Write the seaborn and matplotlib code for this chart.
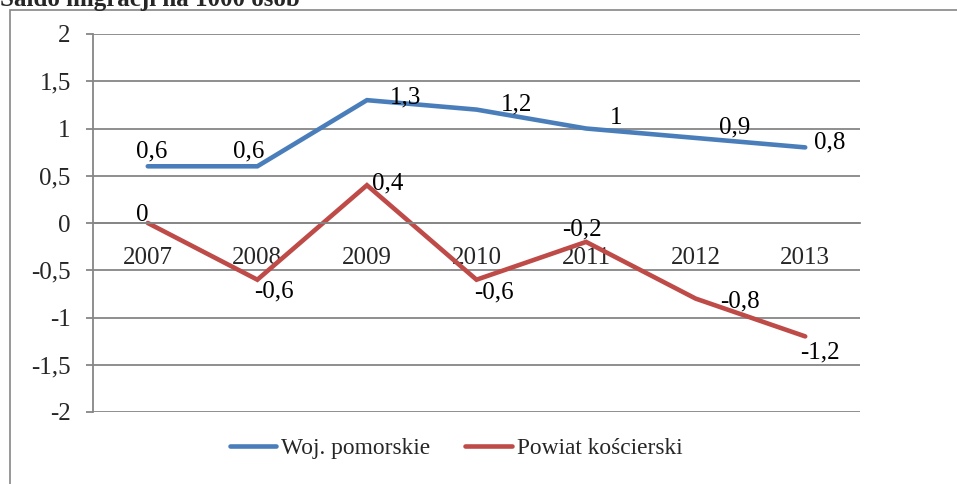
import pandas as pd
import numpy as np
import matplotlib.pyplot as plt
import seaborn as sns
from matplotlib.patches import Rectangle
from matplotlib.ticker import FixedLocator

years = ["2007", "2008", "2009", "2010", "2011", "2012", "2013"]
woj_pomorskie = [0.6, 0.6, 1.3, 1.2, 1.0, 0.9, 0.8]
powiat_koscierski = [0.0, -0.6, 0.4, -0.6, -0.2, -0.8, -1.2]
series_names = ["Woj. pomorskie", "Powiat kościerski"]
y_ticks = [-2, -1.5, -1, -0.5, 0, 0.5, 1, 1.5, 2]

sns.set_style("white")
plt.rcParams['font.family'] = ['Liberation Serif', 'DejaVu Serif']

df = pd.DataFrame({
    'pos': list(range(len(years))) * 2,
    'value': woj_pomorskie + powiat_koscierski,
    'series': [series_names[0]] * len(years) + [series_names[1]] * len(years),
})

colors = {series_names[0]: '#4A7EBB', series_names[1]: '#BE4B48'}
grid_c = '#868686'

fig = plt.figure(figsize=(9.57, 4.84), dpi=100)
ax = fig.add_axes([93 / 957, 72 / 484, 767 / 957, 378 / 484])

sns.lineplot(data=df, x='pos', y='value', hue='series', palette=colors,
             linewidth=3.3, ax=ax, legend=True, sort=False)
for ln in ax.lines:
    ln.set_solid_capstyle('round')
    ln.set_solid_joinstyle('miter')

ax.set_xlim(-0.5, len(years) - 0.5)
ax.set_ylim(-2, 2)
ax.set_yticks(y_ticks)
ax.set_yticklabels([f"{t:g}".replace('.', ',') for t in y_ticks])
ax.yaxis.grid(True, color=grid_c, linewidth=1.3)
ax.set_axisbelow(True)

ax.set_xticks(range(len(years)))
ax.set_xticklabels(years)
ax.xaxis.set_minor_locator(FixedLocator(np.arange(-0.5, len(years), 1.0)))
ax.tick_params(axis='x', which='major', length=0, pad=17, labelsize=18)
ax.tick_params(axis='x', which='minor', length=6, width=1.3, color=grid_c, direction='out')
ax.tick_params(axis='y', length=5, width=1.3, color=grid_c, pad=11, labelsize=18, left=True)

for s in ['top', 'right']:
    ax.spines[s].set_visible(False)
ax.spines['left'].set_color(grid_c)
ax.spines['left'].set_linewidth(1.3)
ax.spines['bottom'].set_position(('data', 0))
ax.spines['bottom'].set_color(grid_c)
ax.spines['bottom'].set_linewidth(1.3)
ax.set_xlabel('')
ax.set_ylabel('')

# data labels (pixel offsets from the point)
off_blue = [(4, 15), (-9, 15), (39, 3), (40, 5), (30, 11), (39, 10), (24, 5)]
off_red = [(-6, 8), (17, -12), (21, 2), (17, -13), (-4, 12), (44, -3), (15, -16)]
for vals, offs in [(woj_pomorskie, off_blue), (powiat_koscierski, off_red)]:
    for i, v in enumerate(vals):
        lab = f"{v:g}".replace('.', ',')
        ax.annotate(lab, (i, v), xytext=offs[i], textcoords='offset pixels',
                    ha='center', va='center', fontsize=18, color='black',
                    annotation_clip=False)

handles, labels = ax.get_legend_handles_labels()
ax.legend(handles, labels, loc='center', bbox_to_anchor=(456 / 957, 1 - 448 / 484),
          bbox_transform=fig.transFigure, ncol=2, frameon=False, fontsize=16.8,
          handlelength=2.0, handletextpad=0.2, columnspacing=1.5)

# outer chart frame, partly outside the image
fig.add_artist(Rectangle((9.5 / 957, -0.2), 1.2, 1.2 - 10 / 484, transform=fig.transFigure,
                         fill=False, edgecolor=grid_c, linewidth=1.2))

fig.text(0, 1 - 6 / 484, "Saldo migracji na 1000 osób", fontsize=18, fontweight='bold',
         ha='left', va='baseline')

fig.savefig('out.png', dpi=100)
